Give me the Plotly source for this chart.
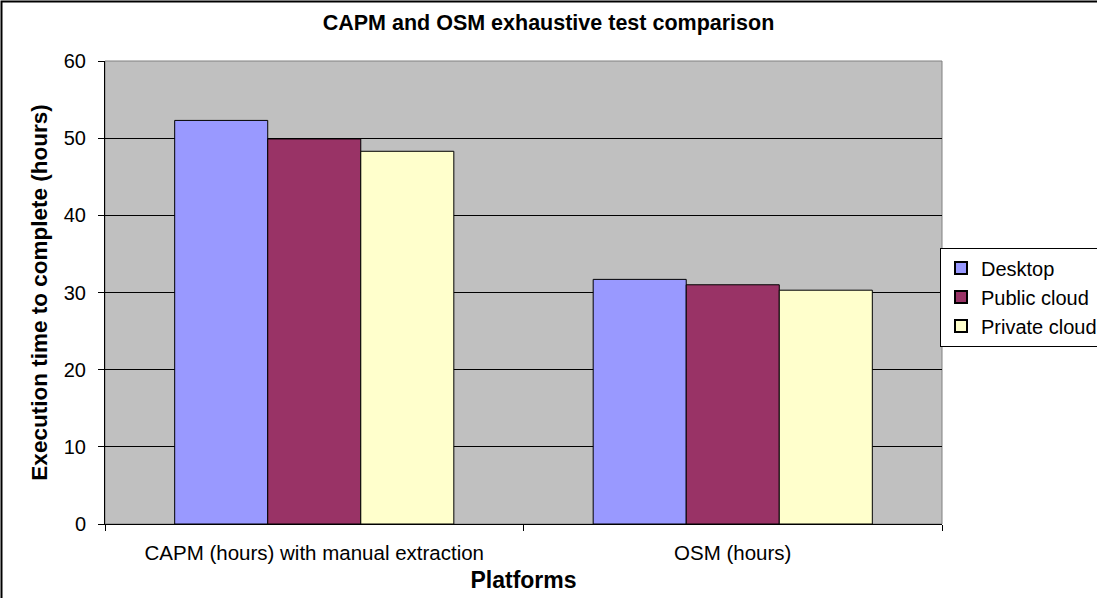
import plotly.graph_objects as go

categories = ["CAPM (hours) with manual extraction", "OSM (hours)"]
series_names = ["Desktop", "Public cloud", "Private cloud"]
desktop = [52.3, 31.7]
public_cloud = [49.9, 31.0]
private_cloud = [48.3, 30.3]
colors = ["#9999FF", "#993366", "#FFFFCC"]

W, H = 1097, 598
L, R, T, B = 105, 155, 61, 74
pw, ph = W - L - R, H - T - B

fig = go.Figure()
for name, vals, c in zip(series_names, [desktop, public_cloud, private_cloud], colors):
    fig.add_trace(go.Bar(x=categories, y=vals, name=name,
                         marker=dict(color=c, line=dict(color="black", width=1))))

fig.update_layout(
    width=W, height=H,
    margin=dict(l=L, r=R, t=T, b=B, autoexpand=False),
    paper_bgcolor="white", plot_bgcolor="#C0C0C0",
    barmode="group", bargap=0.333, bargroupgap=0,
    font=dict(family="Liberation Sans, Arial", color="black", size=20),
    title=dict(text="<b>CAPM and OSM exhaustive test comparison</b>", x=0.5, xanchor="center",
               y=1 - 22 / H, yanchor="middle", font=dict(size=21.5)),
    legend=dict(x=(940 - L) / pw, xanchor="left", y=1 - (297 - T) / ph, yanchor="middle",
                bgcolor="white", bordercolor="black", borderwidth=1,
                font=dict(size=20), itemsizing="constant", tracegroupgap=0),
    xaxis=dict(showline=True, linecolor="black", linewidth=1, ticks="outside", ticklen=6,
               tickcolor="black", tickson="boundaries", showgrid=False, ticklabelstandoff=10,
               title=dict(text="<b>Platforms</b>", font=dict(size=23), standoff=9),
               tickfont=dict(size=20.5)),
    yaxis=dict(range=[0, 60], dtick=10, showline=True, linecolor="black", linewidth=1,
               ticks="outside", ticklen=6, tickcolor="black", gridcolor="black", gridwidth=1,
               zeroline=False, tickfont=dict(size=20), ticklabelstandoff=8,
               title=dict(text="<b>Execution time to complete (hours)</b>", font=dict(size=22.5), standoff=9)),
    shapes=[
        dict(type="rect", xref="paper", yref="paper", x0=0, x1=1, y0=0, y1=1,
             line=dict(color="#808080", width=1), layer="below"),
        dict(type="rect", xref="paper", yref="paper",
             x0=(1.5 - L) / pw, x1=(W + 20 - L) / pw,
             y0=-(H + 20 - T - ph) / ph, y1=1 + (T - 1.5) / ph,
             line=dict(color="black", width=2)),
    ],
)
fig.write_html("out.html", config={"displayModeBar": False},
               post_script="document.body.style.margin='0';document.body.style.overflow='hidden';")
